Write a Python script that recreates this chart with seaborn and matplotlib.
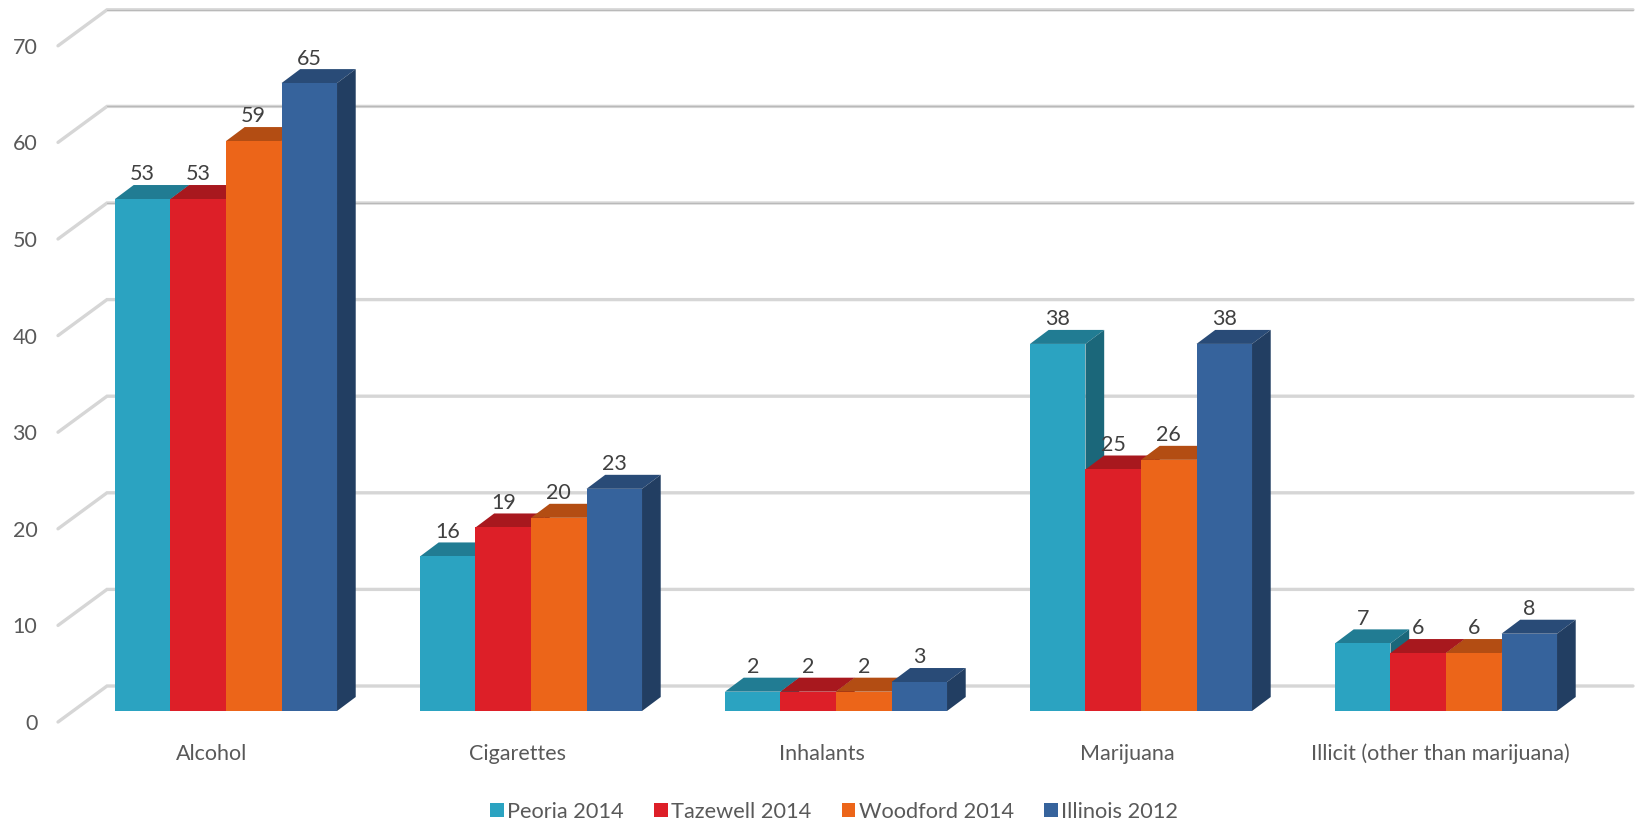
import pandas as pd
import numpy as np
import matplotlib
matplotlib.use('Agg')
import matplotlib.pyplot as plt
from matplotlib.patches import Polygon
from matplotlib.transforms import ScaledTranslation
import seaborn as sns

# values
substances = ['Alcohol', 'Cigarettes', 'Inhalants', 'Marijuana', 'Illicit (other than marijuana)']
peoria = [53, 16, 2, 38, 7]
tazewell = [53, 19, 2, 25, 6]
woodford = [59, 20, 2, 26, 6]
illinois = [65, 23, 3, 38, 8]
places = ['Peoria 2014', 'Tazewell 2014', 'Woodford 2014', 'Illinois 2012']
colors = ['#2BA3C1', '#DD1F28', '#EC6519', '#36639C']
y_ticks = [0, 10, 20, 30, 40, 50, 60, 70]

rows = []
for place, vals in zip(places, [peoria, tazewell, woodford, illinois]):
    for sub, v in zip(substances, vals):
        rows.append({'substance': sub, 'place': place, 'pct': v})
df = pd.DataFrame(rows)

sns.set_style('white')
plt.rcParams['font.family'] = ['Lato', 'DejaVu Sans']

W, H = 1636, 822
fig = plt.figure(figsize=(W / 100, H / 100), dpi=100)

# one category = 305 px, one percent = 9.66 px
cat_px = 305.0
val_px = 9.66
left_px = 73.5
base_px = 711
ax = fig.add_axes([left_px / W, (H - base_px) / H, cat_px * 5 / W, val_px * 73 / H])

sns.barplot(data=df, x='substance', y='pct', hue='place', palette=colors, order=substances,
            hue_order=places, width=0.728, gap=0, saturation=1, linewidth=0, ax=ax)
ax.set_xlim(-0.5, 4.5)
ax.set_ylim(0, 73)
ax.set_xlabel('')
ax.set_ylabel('')
sns.despine(ax=ax, left=True, bottom=True)

# fake 3d: bar depth and wall position, converted from px to data units
bar_dx = 18.7 / cat_px
bar_dy = 14 / val_px
wall_left = (107 - left_px) / cat_px - 0.5
wall_right = (1633 - left_px) / cat_px - 0.5
wall_dy = 25 / val_px
floor_left = (58 - left_px) / cat_px - 0.5
floor_dy = -11 / val_px

grid_col = '#D6D6D6'
for v in y_ticks:
    ax.plot([floor_left, wall_left, wall_right], [v + floor_dy, v + wall_dy, v + wall_dy],
            color=grid_col, lw=2.4, clip_on=False, zorder=1, solid_joinstyle='miter')
    # upper lines have a darker core in the original
    if v >= 50:
        ax.plot([wall_left, wall_right], [v + wall_dy, v + wall_dy], color='#B9B9B9', lw=0.8,
                clip_on=False, zorder=1.1)


def shade(col, f):
    return tuple(c * f for c in matplotlib.colors.to_rgb(col))


for i, cont in enumerate(ax.containers):
    col = colors[i]
    z = 3 + i * 0.1
    for bar in cont:
        x0 = bar.get_x()
        x1 = x0 + bar.get_width()
        y1 = bar.get_height()
        bar.set_zorder(z)
        top = Polygon([(x0, y1), (x1, y1), (x1 + bar_dx, y1 + bar_dy), (x0 + bar_dx, y1 + bar_dy)],
                      closed=True, fc=shade(col, 0.76), ec='none', zorder=z - 0.02, clip_on=False)
        side = Polygon([(x1, 0), (x1 + bar_dx, bar_dy), (x1 + bar_dx, y1 + bar_dy), (x1, y1)],
                       closed=True, fc=shade(col, 0.63), ec='none', zorder=z - 0.01, clip_on=False)
        ax.add_patch(top)
        ax.add_patch(side)
    ax.bar_label(cont, padding=10.5, fontsize=15.5, color='#404040', zorder=10)
    for t in ax.texts[-len(substances):]:
        t.set_clip_on(False)

ax.set_yticks(y_ticks)
ax.tick_params(axis='y', length=0, pad=26, labelsize=15.5, labelcolor='#595959')
ax.tick_params(axis='x', length=0, pad=23.5, labelsize=15.5, labelcolor='#595959')
ax.grid(False)
for lab in ax.get_yticklabels():
    lab.set_transform(lab.get_transform() + ScaledTranslation(0, -11 / 100, fig.dpi_scale_trans))
# labels sit left of the bars, the long last one less so
x_shift = [-14, -14, -14, -14, -6]
for lab, dx in zip(ax.get_xticklabels(), x_shift):
    lab.set_transform(lab.get_transform() + ScaledTranslation(dx / 100, 0, fig.dpi_scale_trans))

sns.move_legend(ax, 'center', bbox_to_anchor=(0.4987, (base_px - 812) / (val_px * 73)), ncol=4, frameon=False,
                title=None, fontsize=15.7, labelcolor='#595959', handlelength=0.63, handleheight=0.63,
                handletextpad=0.15, columnspacing=1.4)

fig.savefig('out.png', dpi=100, facecolor='white')
